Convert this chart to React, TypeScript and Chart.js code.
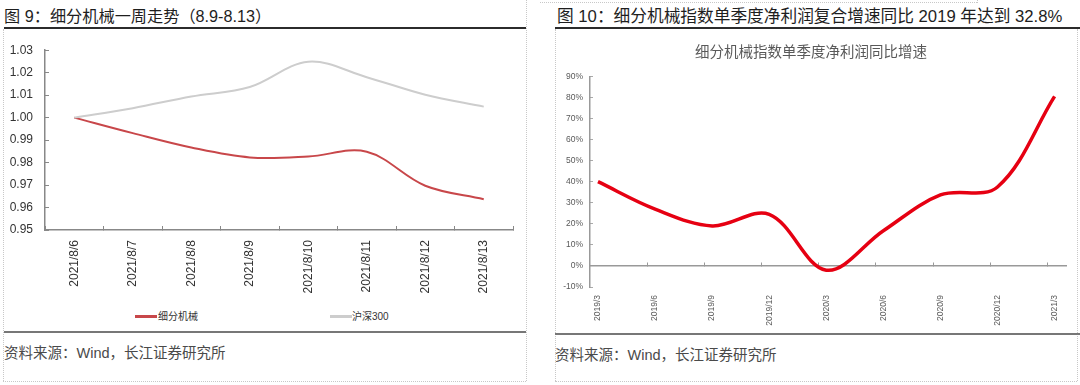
import React, { useEffect, useRef } from 'react';
import { Chart, registerables } from 'chart.js';

Chart.register(...registerables);

const FONT = '"Liberation Sans", Arial, "Noto Sans CJK SC", sans-serif';
const LATIN = '"Liberation Sans", Arial, sans-serif';
const CJK = '"Noto Sans CJK SC", "Liberation Sans", sans-serif';

// ---------- Figure 9 data ----------
const weekDates = ['2021/8/6', '2021/8/7', '2021/8/8', '2021/8/9', '2021/8/10', '2021/8/11', '2021/8/12', '2021/8/13'];
const machineryIndex = [1.0, 0.9931, 0.9867, 0.9823, 0.9827, 0.9848, 0.9697, 0.9637];
const csi300Index = [1.0, 1.0042, 1.0094, 1.0136, 1.0249, 1.018, 1.0102, 1.0049];
const weekSeriesNames = ['细分机械', '沪深300'];
const weekTitle = '图 9：细分机械一周走势（8.9-8.13）';

// ---------- Figure 10 data ----------
const quarters = ['2019/3', '2019/6', '2019/9', '2019/12', '2020/3', '2020/6', '2020/9', '2020/12', '2021/3'];
const profitGrowth = [0.4, 0.27, 0.19, 0.245, -0.02, 0.167, 0.337, 0.375, 0.805];
const growthChartTitle = '细分机械指数单季度净利润同比增速';
const growthTitle = '图 10：细分机械指数单季度净利润复合增速同比 2019 年达到 32.8%';

const sourceText = '资料来源：Wind，长江证券研究所';

const RED9 = '#c8474a';
const GRAY9 = '#cdcdcd';
const RED10 = '#e60012';

function MixedText({ text }: { text: string }) {
  const parts = text.match(/[\u0000-\u024F]+|[^\u0000-\u024F]+/g) || [];
  return (
    <>
      {parts.map((p, i) => (
        <span key={i} style={{ fontFamily: /[\u0000-\u024F]/.test(p[0]) ? LATIN : CJK }}>
          {p}
        </span>
      ))}
    </>
  );
}

function ChartCanvas({ config, left, top, width, height }: any) {
  const ref = useRef<HTMLCanvasElement | null>(null);
  useEffect(() => {
    const chart = new Chart(ref.current as HTMLCanvasElement, config);
    return () => chart.destroy();
  }, []);
  return (
    <canvas
      ref={ref}
      width={width}
      height={height}
      style={{ position: 'absolute', left, top, width, height }}
    />
  );
}

const weekConfig: any = {
  type: 'line',
  data: {
    labels: weekDates,
    datasets: [
      {
        label: weekSeriesNames[1],
        data: csi300Index,
        borderColor: GRAY9,
        borderWidth: 2,
        pointRadius: 0,
        tension: 0.35,
        fill: false,
      },
      {
        label: weekSeriesNames[0],
        data: machineryIndex,
        borderColor: RED9,
        borderWidth: 2,
        pointRadius: 0,
        tension: 0.35,
        fill: false,
      },
    ],
  },
  options: {
    responsive: false,
    animation: false,
    devicePixelRatio: 1,
    layout: { padding: { top: 10, right: 12, left: 0, bottom: 0 } },
    plugins: { legend: { display: false }, tooltip: { enabled: false }, title: { display: false } },
    scales: {
      x: {
        type: 'category',
        offset: true,
        grid: { display: true, drawOnChartArea: false, offset: true, tickLength: -4, color: '#888', lineWidth: 1 },
        border: { color: '#888', width: 1.5 },
        ticks: {
          autoSkip: false,
          minRotation: 90,
          maxRotation: 90,
          padding: 14,
          color: '#333',
          font: { family: FONT, size: 12 },
        },
        afterFit: (s: any) => { s.height = 70; },
      },
      y: {
        min: 0.95,
        max: 1.03,
        ticks: {
          stepSize: 0.01,
          padding: 16,
          color: '#333',
          font: { family: FONT, size: 12 },
          callback: (v: any) => Number(v).toFixed(2),
        },
        grid: { drawOnChartArea: false, tickLength: -4, color: '#888' },
        border: { color: '#888', width: 1.5 },
        afterFit: (s: any) => { s.width = 41; },
      },
    },
  },
};

const axisMin = -0.14;
const axisMax = 8.2;

const growthConfig: any = {
  type: 'line',
  data: {
    datasets: [
      {
        label: growthChartTitle,
        data: profitGrowth.map((v, i) => ({ x: i, y: v })),
        borderColor: RED10,
        borderWidth: 3.5,
        pointRadius: 0,
        tension: 0.35,
        fill: false,
      },
    ],
  },
  options: {
    responsive: false,
    animation: false,
    devicePixelRatio: 1,
    layout: { padding: { top: 0, right: 10, left: 0, bottom: 0 } },
    plugins: {
      legend: { display: false },
      tooltip: { enabled: false },
      title: {
        display: true,
        text: growthChartTitle,
        color: '#595959',
        font: { family: CJK, size: 14.5, weight: 'normal' },
        padding: { top: 7, bottom: 16 },
      },
    },
    scales: {
      x: {
        type: 'linear',
        position: 'bottom',
        min: axisMin,
        max: axisMax,
        afterBuildTicks: (s: any) => { s.ticks = quarters.map((_, i) => ({ value: i })); },
        ticks: {
          autoSkip: false,
          minRotation: 90,
          maxRotation: 90,
          padding: 0,
          color: '#595959',
          font: { family: FONT, size: 8.5 },
          callback: (v: any) => quarters[v] ?? '',
        },
        grid: { display: false },
        border: { display: false },
        afterFit: (s: any) => { s.height = 49; },
      },
      x2: {
        type: 'linear',
        axis: 'x',
        position: { y: 0 },
        min: axisMin,
        max: axisMax,
        afterBuildTicks: (s: any) => { s.ticks = quarters.slice(1).map((_, i) => ({ value: i + 0.87 })); },
        ticks: { display: false },
        grid: { drawOnChartArea: false, tickLength: -4, color: '#999' },
        border: { color: '#999', width: 1.5 },
      },
      y: {
        min: -0.1,
        max: 0.9,
        ticks: {
          stepSize: 0.1,
          padding: 10,
          color: '#595959',
          font: { family: FONT, size: 8.5 },
          callback: (v: any) => Math.round(Number(v) * 100) + '%',
        },
        grid: { drawOnChartArea: false, tickLength: -3, color: '#aaa' },
        border: { color: '#999', width: 1.5 },
        afterFit: (s: any) => { s.width = 34; },
      },
    },
  },
};

const dotted = '1px dotted #c8c8c8';

const titleStyle: any = {
  position: 'absolute',
  top: 5,
  lineHeight: '20px',
  color: '#1e1e1e',
  whiteSpace: 'nowrap',
};

const sourceStyle: any = {
  position: 'absolute',
  lineHeight: '20px',
  fontSize: 14.5,
  color: '#4a4a4a',
  whiteSpace: 'nowrap',
};

const legendTextStyle: any = {
  position: 'absolute',
  top: 309,
  fontSize: 10,
  lineHeight: '14px',
  color: '#333',
  whiteSpace: 'nowrap',
};

export default function App() {
  useEffect(() => {
    document.body.style.margin = '0';
  }, []);
  return (
    <div
      style={{
        position: 'absolute',
        left: 0,
        top: 0,
        width: 1080,
        height: 385,
        overflow: 'hidden',
        background: '#fff',
        fontFamily: FONT,
      }}
    >
      {/* ---------- left panel ---------- */}
      <div style={{ position: 'absolute', left: 3, top: 29, width: 0, height: 352, borderLeft: dotted }} />
      <div style={{ position: 'absolute', left: 526, top: 0, width: 0, height: 381, borderLeft: dotted }} />
      <div style={{ position: 'absolute', left: 3, top: 381, width: 523, height: 0, borderTop: dotted }} />
      <div style={{ ...titleStyle, left: 4, fontSize: 16.2 }}>
        <MixedText text={weekTitle} />
      </div>
      <div style={{ position: 'absolute', left: 4, top: 27, width: 522, height: 2, background: '#2b2b2b' }} />
      <ChartCanvas config={weekConfig} left={4} top={27} width={521} height={273} />
      <div style={{ position: 'absolute', left: 135, top: 315, width: 22, height: 3, background: RED9 }} />
      <div style={{ ...legendTextStyle, left: 158 }}>
        <MixedText text={weekSeriesNames[0]} />
      </div>
      <div style={{ position: 'absolute', left: 330, top: 315, width: 22, height: 3, background: GRAY9 }} />
      <div style={{ ...legendTextStyle, left: 352 }}>
        <MixedText text={weekSeriesNames[1]} />
      </div>
      <div style={{ position: 'absolute', left: 4, top: 331, width: 522, height: 2, background: '#777' }} />
      <div style={{ ...sourceStyle, left: 4, top: 342 }}>
        <MixedText text={sourceText} />
      </div>

      {/* ---------- right panel ---------- */}
      <div style={{ position: 'absolute', left: 540, top: 2, width: 437, height: 0, borderTop: dotted }} />
      <div style={{ position: 'absolute', left: 977, top: 0, width: 0, height: 3, borderLeft: dotted }} />
      <div style={{ position: 'absolute', left: 555, top: 29, width: 0, height: 352, borderLeft: dotted }} />
      <div style={{ position: 'absolute', left: 1077, top: 29, width: 0, height: 352, borderLeft: dotted }} />
      <div style={{ position: 'absolute', left: 555, top: 381, width: 522, height: 0, borderTop: dotted }} />
      <div style={{ ...titleStyle, left: 557, fontSize: 16.7 }}>
        <MixedText text={growthTitle} />
      </div>
      <div style={{ position: 'absolute', left: 555, top: 27, width: 525, height: 2, background: '#2b2b2b' }} />
      <ChartCanvas config={growthConfig} left={556} top={36} width={520} height={300} />
      <div style={{ position: 'absolute', left: 555, top: 333, width: 525, height: 2, background: '#777' }} />
      <div style={{ ...sourceStyle, left: 555, top: 344 }}>
        <MixedText text={sourceText} />
      </div>
    </div>
  );
}
